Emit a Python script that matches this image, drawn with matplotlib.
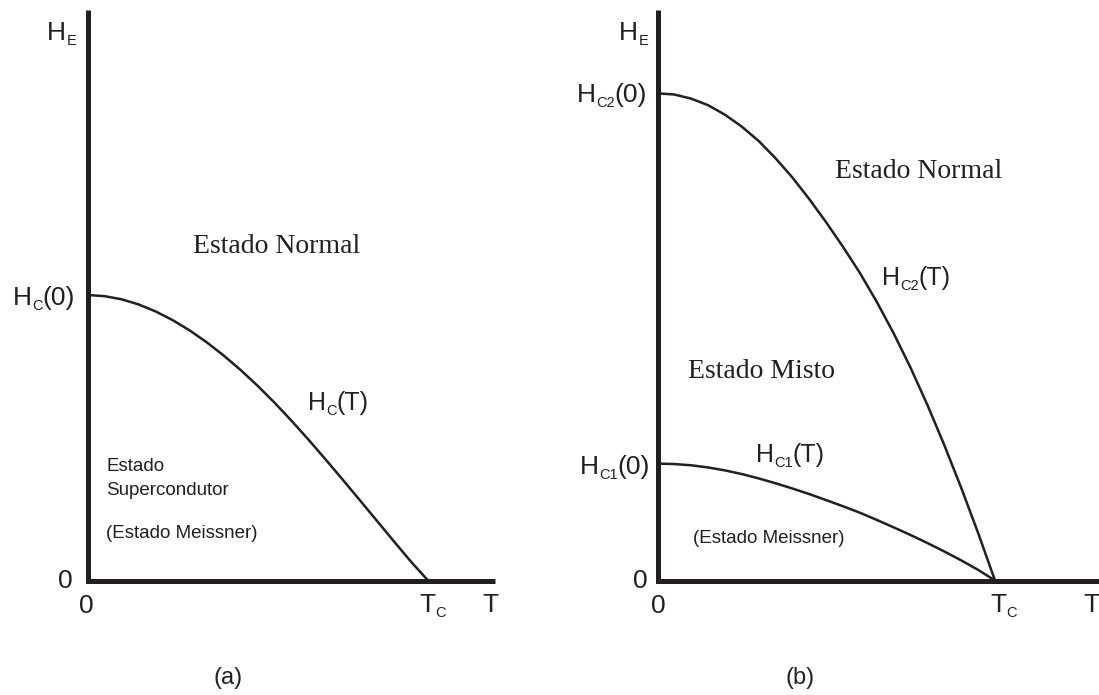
import matplotlib.pyplot as plt

plt.rcParams['font.family'] = ['Liberation Sans', 'DejaVu Sans']

INK = '#231f20'

# (a) tipo I: T em unidades de Tc, campo em unidades de Hc(0)
t_a = [0, 0.05, 0.1, 0.15, 0.2, 0.25, 0.3, 0.35, 0.4, 0.45, 0.5,
       0.55, 0.6, 0.65, 0.7, 0.75, 0.8, 0.85, 0.9, 0.95, 1.0]
hc_a = [1, 0.996, 0.985, 0.967, 0.9425, 0.912, 0.876, 0.8345, 0.788, 0.737, 0.6815,
        0.622, 0.5585, 0.492, 0.423, 0.3525, 0.281, 0.209, 0.137, 0.066, 0]

# (b) tipo II: campo em unidades de Hc2(0)
t_b = [0, 0.05, 0.1, 0.15, 0.2, 0.25, 0.3, 0.35, 0.4, 0.45, 0.5,
       0.55, 0.6, 0.65, 0.7, 0.75, 0.8, 0.85, 0.9, 0.95, 1.0]
hc2_b = [1, 0.9975, 0.989, 0.9755, 0.956, 0.9315, 0.902, 0.8665, 0.827, 0.7825, 0.735,
         0.6845, 0.631, 0.5715, 0.507, 0.4365, 0.36, 0.2775, 0.19, 0.0975, 0]
hc1_b = [0.240, 0.239, 0.2365, 0.232, 0.226, 0.2185, 0.2095, 0.1995, 0.1888, 0.1773, 0.165,
         0.1523, 0.139, 0.1243, 0.109, 0.0933, 0.0768, 0.0595, 0.0413, 0.0218, 0]

W, H = 1099, 695
fig = plt.figure(figsize=(W / 100, H / 100), dpi=100)
renderer = fig.canvas.get_renderer()


def panel(left, right, x0, x1, y0, y1):
    # T=0 at column x0, T=1 at x1; H=0 at row y0, H=1 at row y1
    ax = fig.add_axes([left / W, 0, (right - left) / W, 1])
    sx = x1 - x0
    sy = y0 - y1
    ax.set_xlim((left - x0) / sx, (right - x0) / sx)
    ax.set_ylim((y0 - H) / sy, y0 / sy)
    ax.axis('off')
    return ax


def frame(ax, tmax, hmax):
    ax.plot([0, 0, tmax], [hmax, 0, 0], color=INK, lw=3.6,
            solid_joinstyle='miter', solid_capstyle='butt', clip_on=False, zorder=3)


def label(x, y, s, size, **kw):
    fig.text(x / W, 1 - y / H, s, fontsize=size, color=INK, **kw)


def sym(x, y, base, sub, tail='', size=19, ha='left'):
    # letter with a small, lowered index, e.g. H_C2(0)
    parts = [(base, size, 0), (sub, 10.5, 5)]
    if tail:
        parts.append((tail, size, 0))
    pieces, width = [], 0
    for s, fs, dy in parts:
        t = fig.text(0, 0, s, fontsize=fs, color=INK, va='baseline', ha='left')
        pieces.append((t, width, dy))
        width += t.get_window_extent(renderer).width
    x0 = x - width if ha == 'right' else x
    for t, ox, dy in pieces:
        t.set_position(((x0 + ox) / W, 1 - (y + dy) / H))


SERIF = ['Liberation Serif', 'DejaVu Serif']

# ---- (a)
ax1 = panel(0, 549.5, 87.5, 428, 580.5, 295)
ax1.plot(t_a, hc_a, color=INK, lw=1.8, zorder=2)
frame(ax1, 1.197, 2.0)

sym(76, 40, 'H', 'E', ha='right')
sym(75, 305, 'H', 'C', '(0)', ha='right')
label(73, 581, '0', 19, ha='right', va='center')
label(86, 594, '0', 19, ha='center', va='top')
sym(419, 612, 'T', 'C')
label(490, 612, 'T', 19, ha='center', va='baseline')
sym(308, 410, 'H', 'C', '(T)', size=18)
label(277, 253, 'Estado Normal', 20, ha='center', va='baseline', family=SERIF)
label(106, 471, 'Estado', 13.5, ha='left', va='baseline')
label(106, 495, 'Supercondutor', 13.5, ha='left', va='baseline')
label(106, 538, '(Estado Meissner)', 13.5, ha='left', va='baseline')
label(228, 678, '(a)', 17, ha='center', va='center')

# ---- (b)
ax2 = panel(549.5, 1099, 657.5, 995, 580.5, 93.3)
ax2.plot(t_b, hc2_b, color=INK, lw=1.8, zorder=2)
ax2.plot(t_b, hc1_b, color=INK, lw=1.8, zorder=2)
frame(ax2, 1.31, 1.172)

sym(648, 40, 'H', 'E', ha='right')
sym(647, 102, 'H', 'C2', '(0)', ha='right')
sym(650, 474, 'H', 'C1', '(0)', ha='right')
label(648, 581, '0', 19, ha='right', va='center')
label(658, 594, '0', 19, ha='center', va='top')
sym(990, 612, 'T', 'C')
label(1091, 612, 'T', 19, ha='center', va='baseline')
sym(882, 285, 'H', 'C2', '(T)', size=18)
sym(756, 462, 'H', 'C1', '(T)', size=18)
label(835, 178, 'Estado Normal', 20, ha='left', va='baseline', family=SERIF)
label(688, 378, 'Estado Misto', 20, ha='left', va='baseline', family=SERIF)
label(693, 543, '(Estado Meissner)', 13.5, ha='left', va='baseline')
label(800, 678, '(b)', 17, ha='center', va='center')

fig.savefig('out.png', dpi=100)
